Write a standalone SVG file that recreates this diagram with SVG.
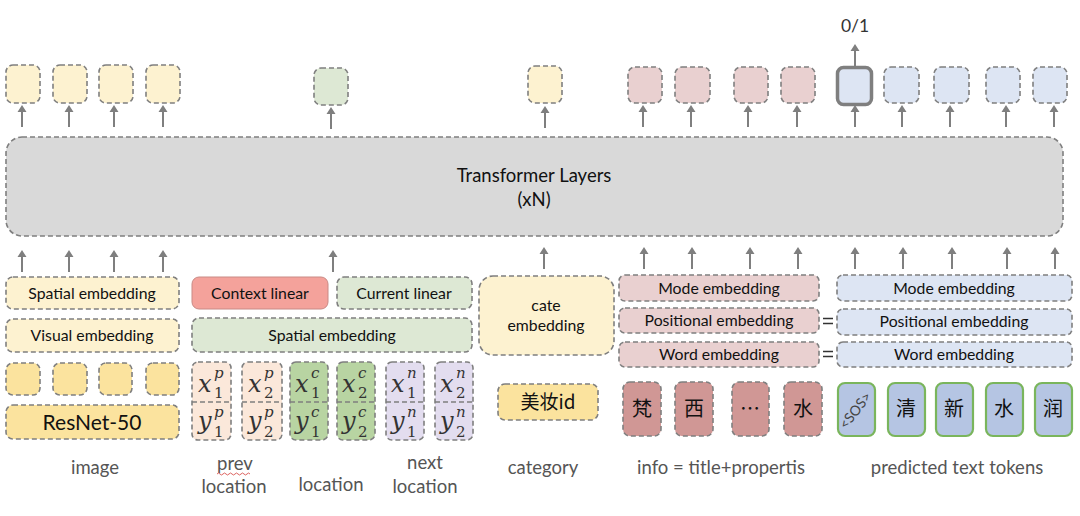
<svg xmlns="http://www.w3.org/2000/svg" width="1080" height="516" viewBox="0 0 1080 516">
<style>
.d{stroke:#7f7f7f;stroke-width:1.6;stroke-dasharray:5 3}
.y{fill:#fdf2d0}.g{fill:#dde8d4}.r{fill:#e9d0d0}.b{fill:#dde5f3}
.yy{fill:#fbe39e}.cl{fill:#f4a29b}.pe{fill:#fbe8da}.gl{fill:#b8d4a2}.la{fill:#e3ddef}.ch{fill:#d09795}
.tk{fill:#b5c5e3;stroke:#7ab55c;stroke-width:2.2}
.a{stroke:#7f7f7f;stroke-width:2;fill:none}
text{font-family:Lato,"Open Sans","Noto Sans CJK SC",sans-serif;fill:#111;text-anchor:middle}
.t14{font-size:15.8px}
.lb{font-size:18.5px;fill:#555}
.m{font-family:"DejaVu Serif","Liberation Serif",serif;font-style:italic;font-size:24px;fill:#333;text-anchor:start}
.s{font-family:"DejaVu Serif","Liberation Serif",serif;font-style:italic;font-size:15px;fill:#333;text-anchor:start}
.n{font-family:"DejaVu Serif","Liberation Serif",serif;font-size:15px;fill:#333;text-anchor:start}
.cj{font-family:"Noto Sans CJK SC",sans-serif;font-size:20px}
</style>

<g id="connectors">
<path class="a" d="M22,127V112M69,127V112M114,127V112M163,127V112M331,129V114M545,128V113M643,127V112M691,127V112M748,127V112M797,127V112M855,127V112M902,127V112M950,127V112M1006,127V112M1054,127V112M855,66V50"/>
<path class="a" d="M22,272V257M69,272V257M114,272V257M163,272V257M333,272V257M544,269V254M644,269V254M692,269V254M750,269V254M798,269V254M855,269V254M903,269V254M952,269V254M1007,269V254M1055,269V254" />
<g fill="#7f7f7f">
<path d="M17.5,112L22,105L26.5,112ZM64.5,112L69,105L73.5,112ZM109.5,112L114,105L118.5,112ZM158.5,112L163,105L167.5,112ZM326.5,114L331,107L335.5,114ZM540.5,113L545,106L549.5,113ZM638.5,112L643,105L647.5,112ZM686.5,112L691,105L695.5,112ZM743.5,112L748,105L752.5,112ZM792.5,112L797,105L801.5,112ZM850.5,112L855,105L859.5,112ZM897.5,112L902,105L906.5,112ZM945.5,112L950,105L954.5,112ZM1001.5,112L1006,105L1010.5,112ZM1049.5,112L1054,105L1058.5,112ZM850.5,51L855,44L859.5,51Z"/>
<path d="M17.5,257L22,250L26.5,257ZM64.5,257L69,250L73.5,257ZM109.5,257L114,250L118.5,257ZM158.5,257L163,250L167.5,257ZM328.5,257L333,250L337.5,257ZM539.5,254L544,247L548.5,254ZM639.5,254L644,247L648.5,254ZM687.5,254L692,247L696.5,254ZM745.5,254L750,247L754.5,254ZM793.5,254L798,247L802.5,254ZM850.5,254L855,247L859.5,254ZM898.5,254L903,247L907.5,254ZM947.5,254L952,247L956.5,254ZM1002.5,254L1007,247L1011.5,254ZM1050.5,254L1055,247L1059.5,254Z"/>
</g>
</g>

<g id="outputs">
<rect class="d y" x="6" y="65" width="34" height="38" rx="7"/>
<rect class="d y" x="53" y="65" width="34" height="38" rx="7"/>
<rect class="d y" x="99" y="65" width="34" height="38" rx="7"/>
<rect class="d y" x="146" y="65" width="34" height="38" rx="7"/>
<rect class="d g" x="314" y="68" width="34" height="37" rx="7"/>
<rect class="d y" x="528" y="66" width="34" height="37" rx="7"/>
<rect class="d r" x="628" y="67" width="34" height="36" rx="7"/>
<rect class="d r" x="675" y="67" width="35" height="36" rx="7"/>
<rect class="d r" x="734" y="67" width="34" height="36" rx="7"/>
<rect class="d r" x="781" y="67" width="34" height="36" rx="7"/>
<rect x="837.5" y="67.5" width="34" height="37" rx="6" fill="#dde5f3" stroke="#7f7f7f" stroke-width="3.5"/>
<rect class="d b" x="884" y="67" width="35" height="36" rx="7"/>
<rect class="d b" x="934" y="67" width="35" height="36" rx="7"/>
<rect class="d b" x="986" y="67" width="34" height="36" rx="7"/>
<rect class="d b" x="1033" y="67" width="34" height="36" rx="7"/>
<text x="855" y="32" style="font-size:17.5px;fill:#333">0/1</text>
</g>

<g id="transformer">
<rect class="d" x="6" y="137" width="1057" height="99" rx="16" fill="#d9d9d9"/>
<text x="534" y="182" style="font-size:18.5px">Transformer Layers</text>
<text x="534" y="206" style="font-size:18.5px">(xN)</text>
</g>

<g id="image">
<rect class="d y" x="6" y="277" width="173" height="32" rx="7"/>
<text class="t14" x="92" y="298.5">Spatial embedding</text>
<rect class="d y" x="6" y="319" width="173" height="33" rx="7"/>
<text class="t14" x="92" y="341">Visual embedding</text>
<rect class="d yy" x="6" y="363" width="34" height="32" rx="7"/>
<rect class="d yy" x="53" y="363" width="34" height="32" rx="7"/>
<rect class="d yy" x="99" y="363" width="33" height="32" rx="7"/>
<rect class="d yy" x="146" y="363" width="33" height="32" rx="7"/>
<rect class="d yy" x="6" y="405" width="173" height="34" rx="7"/>
<text x="92" y="429.5" style="font-size:21px">ResNet-50</text>
<text class="lb" x="95" y="474">image</text>
</g>

<g id="location">
<rect class="d cl" x="192" y="277" width="136" height="32" rx="7" style="stroke-dasharray:none;stroke:#c98a85;stroke-width:1"/>
<text class="t14" x="260" y="298.5">Context linear</text>
<rect class="d g" x="337" y="277" width="135" height="32" rx="7"/>
<text class="t14" x="404" y="298.5">Current linear</text>
<rect class="d g" x="192" y="318" width="280" height="34" rx="7"/>
<text class="t14" x="332" y="340.5">Spatial embedding</text>

<rect class="d pe" x="192" y="362" width="39" height="78" rx="6"/>
<line class="d" x1="192" y1="402" x2="231" y2="402"/>
<rect class="d pe" x="242" y="362" width="40" height="78" rx="6"/>
<line class="d" x1="242" y1="402" x2="282" y2="402"/>
<rect class="d gl" x="290" y="362" width="38" height="78" rx="6"/>
<line class="d" x1="290" y1="402" x2="328" y2="402"/>
<rect class="d gl" x="337" y="362" width="38" height="78" rx="6"/>
<line class="d" x1="337" y1="402" x2="375" y2="402"/>
<rect class="d la" x="386" y="362" width="38" height="78" rx="6"/>
<line class="d" x1="386" y1="402" x2="424" y2="402"/>
<rect class="d la" x="435" y="362" width="38" height="78" rx="6"/>
<line class="d" x1="435" y1="402" x2="473" y2="402"/>

<text class="m" x="198" y="392">x</text><text class="s" x="214" y="378">p</text><text class="n" x="214" y="398">1</text>
<text class="m" x="248" y="392">x</text><text class="s" x="264" y="378">p</text><text class="n" x="264" y="398">2</text>
<text class="m" x="295" y="392">x</text><text class="s" x="311" y="378">c</text><text class="n" x="311" y="398">1</text>
<text class="m" x="342" y="392">x</text><text class="s" x="358" y="378">c</text><text class="n" x="358" y="398">2</text>
<text class="m" x="391" y="392">x</text><text class="s" x="407" y="378">n</text><text class="n" x="407" y="398">1</text>
<text class="m" x="440" y="392">x</text><text class="s" x="456" y="378">n</text><text class="n" x="456" y="398">2</text>

<text class="m" x="198" y="429">y</text><text class="s" x="214" y="417">p</text><text class="n" x="214" y="437">1</text>
<text class="m" x="248" y="429">y</text><text class="s" x="264" y="417">p</text><text class="n" x="264" y="437">2</text>
<text class="m" x="295" y="429">y</text><text class="s" x="311" y="417">c</text><text class="n" x="311" y="437">1</text>
<text class="m" x="342" y="429">y</text><text class="s" x="358" y="417">c</text><text class="n" x="358" y="437">2</text>
<text class="m" x="391" y="429">y</text><text class="s" x="407" y="417">n</text><text class="n" x="407" y="437">1</text>
<text class="m" x="440" y="429">y</text><text class="s" x="456" y="417">n</text><text class="n" x="456" y="437">2</text>

<text class="lb" x="235" y="470">prev</text>
<path d="M217,474 q1.5,-2 3,0 t3,0 t3,0 t3,0 t3,0 t3,0 t3,0 t3,0 t3,0 t3,0 t3,0" fill="none" stroke="#d9534f" stroke-width="0.9"/>
<text class="lb" x="234" y="493">location</text>
<text class="lb" x="331" y="491">location</text>
<text class="lb" x="425" y="469">next</text>
<text class="lb" x="425" y="493">location</text>
</g>

<g id="category">
<rect class="d y" x="479" y="276" width="135" height="79" rx="14"/>
<text class="t14" x="546" y="311">cate</text>
<text class="t14" x="546" y="331">embedding</text>
<rect class="d yy" x="498" y="384" width="100" height="36" rx="7"/>
<text x="548" y="409" style="font-size:19px;font-family:'Noto Sans CJK SC',sans-serif">美妆id</text>
<text class="lb" x="543" y="474">category</text>
</g>

<g id="info">
<rect class="d r" x="619" y="275" width="200" height="26" rx="6"/>
<text class="t14" x="719" y="293.5">Mode embedding</text>
<rect class="d r" x="619" y="308" width="200" height="25" rx="6"/>
<text class="t14" x="719" y="326">Positional embedding</text>
<rect class="d r" x="619" y="342" width="200" height="25" rx="6"/>
<text class="t14" x="719" y="360">Word embedding</text>
<rect class="d ch" x="623" y="382" width="38" height="54" rx="7"/>
<text class="cj" x="642" y="416">梵</text>
<rect class="d ch" x="675" y="382" width="38" height="54" rx="7"/>
<text class="cj" x="694" y="416">西</text>
<rect class="d ch" x="732" y="382" width="37" height="54" rx="7"/>
<text class="cj" x="750" y="416">…</text>
<rect class="d ch" x="784" y="382" width="38" height="54" rx="7"/>
<text class="cj" x="803" y="416">水</text>
<text class="lb" x="721" y="474">info = title+propertis</text>
<path d="M823,318.5H833M823,323.5H833M823,351.5H833M823,356.5H833" stroke="#333" stroke-width="1.3"/>
</g>

<g id="predicted">
<rect class="d b" x="837" y="275" width="235" height="26" rx="6"/>
<text class="t14" x="954" y="293.5">Mode embedding</text>
<rect class="d b" x="837" y="309" width="235" height="26" rx="6"/>
<text class="t14" x="954" y="327">Positional embedding</text>
<rect class="d b" x="837" y="342" width="235" height="25" rx="6"/>
<text class="t14" x="954" y="360">Word embedding</text>
<rect class="tk" x="838" y="383" width="37" height="53" rx="7"/>
<text x="856" y="415" transform="rotate(-52 856 411)" style="font-size:14px;fill:#444">&lt;SOS&gt;</text>
<rect class="tk" x="888" y="383" width="37" height="53" rx="7"/>
<text class="cj" x="906" y="416">清</text>
<rect class="tk" x="936" y="383" width="37" height="53" rx="7"/>
<text class="cj" x="954" y="416">新</text>
<rect class="tk" x="986" y="383" width="37" height="53" rx="7"/>
<text class="cj" x="1004" y="416">水</text>
<rect class="tk" x="1035" y="383" width="37" height="53" rx="7"/>
<text class="cj" x="1053" y="416">润</text>
<text class="lb" x="957" y="474">predicted text tokens</text>
</g>
</svg>
